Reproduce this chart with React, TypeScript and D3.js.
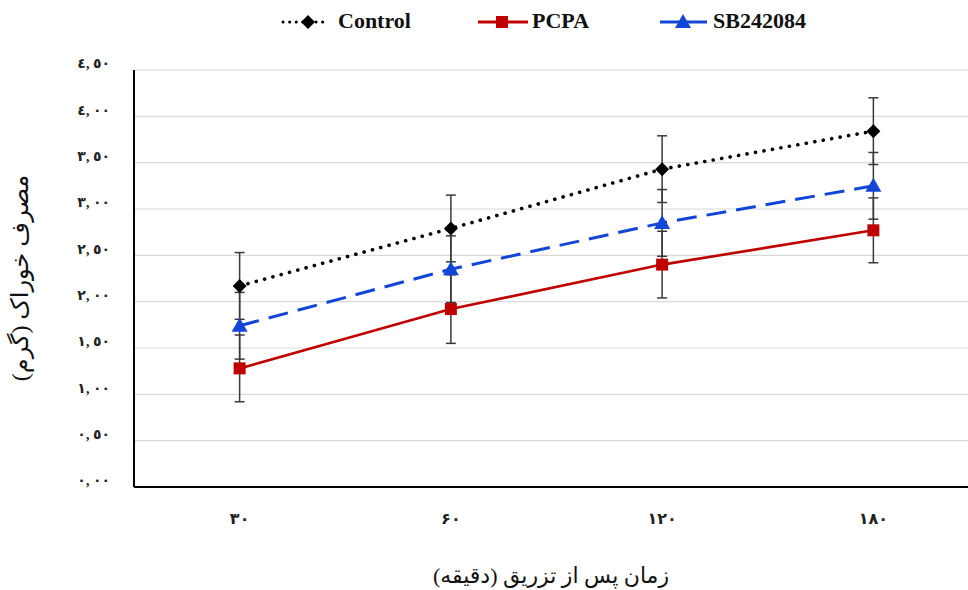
import React from "react";
import * as d3 from "d3";

const categories = ["۳۰", "۶۰", "۱۲۰", "۱۸۰"];
const yTicks = [0, 0.5, 1, 1.5, 2, 2.5, 3, 3.5, 4, 4.5];
const yTickLabels = ["٠, ٠٠", "٠, ٥٠", "١, ٠٠", "١, ٥٠", "٢, ٠٠", "٢, ٥٠", "٣, ٠٠", "٣, ٥٠", "٤, ٠٠", "٤, ٥٠"];

const controlValues = [2.17, 2.79, 3.43, 3.84];
const controlErrors = [0.36, 0.36, 0.36, 0.36];
const pcpaValues = [1.28, 1.92, 2.4, 2.77];
const pcpaErrors = [0.36, 0.37, 0.36, 0.35];
const sbValues = [1.74, 2.35, 2.85, 3.25];
const sbErrors = [0.36, 0.36, 0.36, 0.36];

const series = [
  { name: "Control", values: controlValues, errors: controlErrors, color: "#000000", dash: "0.1,8.5", width: 3.6, marker: "diamond" },
  { name: "PCPA", values: pcpaValues, errors: pcpaErrors, color: "#c00000", dash: null, width: 2.6, marker: "square" },
  { name: "SB242084", values: sbValues, errors: sbErrors, color: "#1246d6", dash: "20,10", width: 3, marker: "triangle" },
];

const W = 968;
const H = 590;
const left = 134;
const bottom = 487;
const top = 70;

function Marker({ type, x, y, color }: { type: string; x: number; y: number; color: string }) {
  if (type === "diamond") {
    return <path d={`M${x},${y - 7}L${x + 7},${y}L${x},${y + 7}L${x - 7},${y}Z`} fill={color} />;
  }
  if (type === "square") {
    return <rect x={x - 6} y={y - 6} width={12} height={12} fill={color} />;
  }
  return <path d={`M${x},${y - 8}L${x + 8},${y + 6}L${x - 8},${y + 6}Z`} fill={color} />;
}

export default function App() {
  const x = d3.scaleBand<string>().domain(categories).range([left, 979]).padding(0);
  const y = d3.scaleLinear().domain([0, 4.5]).range([bottom, top]);
  const cx = (c: string) => (x(c) as number) + x.bandwidth() / 2;

  const line = d3
    .line<number>()
    .x((_, i) => cx(categories[i]))
    .y((d) => y(d));

  const serif = "Liberation Serif, Times New Roman, DejaVu Serif, DejaVu Sans, serif";

  // legend entries: line start/end, marker centre, text start
  const legend = [
    { s: series[0], x0: 283, x1: 326, mx: 308, tx: 338 },
    { s: series[1], x0: 478, x1: 528, mx: 502, tx: 532 },
    { s: series[2], x0: 660, x1: 707, mx: 683, tx: 713 },
  ];

  return (
    <svg width={W} height={H} style={{ position: "absolute", left: 0, top: 0, background: "#fff" }}>
      {/* grid */}
      {yTicks.slice(1).map((t) => (
        <line key={t} x1={left} x2={W} y1={y(t)} y2={y(t)} stroke="#d9d9d9" strokeWidth={1.2} />
      ))}
      {/* axes */}
      <line x1={left} x2={left} y1={top} y2={bottom} stroke="#000" strokeWidth={2} />
      <line x1={left} x2={W} y1={bottom} y2={bottom} stroke="#000" strokeWidth={2} />

      {/* y tick labels */}
      {yTicks.map((t, i) => (
        <text
          key={t}
          x={110}
          y={y(t) - 5}
          textAnchor="end"
          dominantBaseline="middle"
          fontFamily={serif}
          fontWeight="bold"
          fontSize={14}
          letterSpacing={1.5}
          fill="#222"
          direction="ltr"
          unicodeBidi="bidi-override"
        >
          {yTickLabels[i]}
        </text>
      ))}

      {/* x tick labels */}
      {categories.map((c) => (
        <text
          key={c}
          x={cx(c)}
          y={520}
          textAnchor="middle"
          dominantBaseline="middle"
          fontFamily={serif}
          fontWeight="bold"
          fontSize={16}
          fill="#222"
          direction="ltr"
          unicodeBidi="bidi-override"
        >
          {c}
        </text>
      ))}

      {/* axis titles */}
      <text
        transform={`translate(22,278) rotate(-90)`}
        textAnchor="middle"
        dominantBaseline="middle"
        fontFamily={serif}
        fontSize={24}
        fill="#111"
      >
        مصرف خوراک (گرم)
      </text>
      <text x={551} y={578} textAnchor="middle" dominantBaseline="middle" fontFamily={serif} fontSize={22} fill="#111">
        زمان پس از تزریق (دقیقه)
      </text>

      {/* lines */}
      {series.map((s) => (
        <path
          key={s.name}
          d={line(s.values) as string}
          fill="none"
          stroke={s.color}
          strokeWidth={s.width}
          strokeDasharray={s.dash ?? undefined}
          strokeLinecap={s.marker === "diamond" ? "round" : "butt"}
        />
      ))}

      {/* error bars */}
      {series.map((s) =>
        s.values.map((v, i) => {
          const px = cx(categories[i]);
          const y0 = y(v + s.errors[i]);
          const y1 = y(v - s.errors[i]);
          return (
            <g key={s.name + i} stroke="#3a3a3a" strokeWidth={1.5}>
              <line x1={px} x2={px} y1={y0} y2={y1} />
              <line x1={px - 5} x2={px + 5} y1={y0} y2={y0} />
              <line x1={px - 5} x2={px + 5} y1={y1} y2={y1} />
            </g>
          );
        })
      )}

      {/* markers */}
      {series.map((s) =>
        s.values.map((v, i) => (
          <Marker key={s.name + "m" + i} type={s.marker} x={cx(categories[i])} y={y(v)} color={s.color} />
        ))
      )}

      {/* legend */}
      {legend.map(({ s, x0, x1, mx, tx }) => (
        <g key={s.name}>
          <line
            x1={x0}
            x2={x1}
            y1={22}
            y2={22}
            stroke={s.color}
            strokeWidth={3}
            strokeDasharray={s.marker === "diamond" ? "0.1,6.5" : undefined}
            strokeLinecap={s.marker === "diamond" ? "round" : "butt"}
          />
          <Marker type={s.marker} x={mx} y={22} color={s.color} />
          <text x={tx} y={23} dominantBaseline="middle" fontFamily={serif} fontWeight="bold" fontSize={22} fill="#111">
            {s.name}
          </text>
        </g>
      ))}
    </svg>
  );
}
